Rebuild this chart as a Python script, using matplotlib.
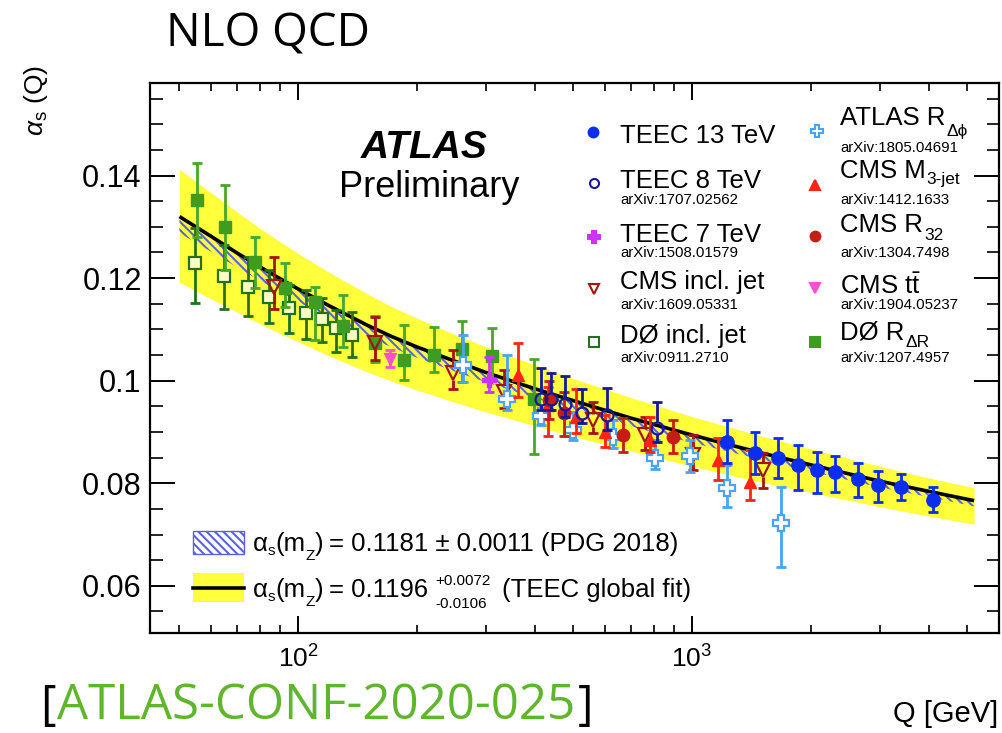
import numpy as np
import matplotlib
matplotlib.use("Agg")
import matplotlib.pyplot as plt
from matplotlib.patches import Rectangle
from matplotlib.lines import Line2D
from matplotlib.ticker import FixedLocator, NullFormatter, FuncFormatter, MultipleLocator

plt.rcParams['font.family'] = ['Liberation Sans', 'DejaVu Sans']
plt.rcParams['mathtext.fontset'] = 'custom'
plt.rcParams['mathtext.rm'] = 'Liberation Sans'
plt.rcParams['mathtext.it'] = 'Liberation Sans:italic'
plt.rcParams['mathtext.bf'] = 'Liberation Sans:bold'
plt.rcParams['mathtext.fallback'] = 'stixsans'
plt.rcParams['hatch.linewidth'] = 1.5

# ---------------- data ----------------
Q_curve     = [50, 60, 70, 80, 90, 100, 120, 150, 173, 200, 250, 300, 400, 500, 700, 1000, 1500, 2000, 3000, 4000, 5200]
fit_central = [0.1320, 0.1282, 0.1249, 0.1222, 0.1199, 0.1179, 0.1146, 0.1108, 0.1086, 0.1066, 0.1038, 0.1016,
               0.0984, 0.0961, 0.0927, 0.0894, 0.0859, 0.0836, 0.0804, 0.0784, 0.0766]
fit_up      = [0.1412, 0.1367, 0.1329, 0.1297, 0.1271, 0.1248, 0.1211, 0.1169, 0.1144, 0.1122, 0.1090, 0.1066,
               0.1030, 0.1004, 0.0967, 0.0930, 0.0892, 0.0867, 0.0833, 0.0810, 0.0791]
fit_down    = [0.1192, 0.1160, 0.1134, 0.1111, 0.1092, 0.1076, 0.1048, 0.1017, 0.0999, 0.0982, 0.0958, 0.0939,
               0.0912, 0.0891, 0.0863, 0.0833, 0.0802, 0.0782, 0.0754, 0.0736, 0.0720]
pdg_up      = [0.1315, 0.1277, 0.1245, 0.1218, 0.1195, 0.1175, 0.1142, 0.1105, 0.1083, 0.1063, 0.1035, 0.1013,
               0.0981, 0.0958, 0.0925, 0.0892, 0.0857, 0.0834, 0.0802, 0.0782, 0.0764]
pdg_down    = [0.1288, 0.1252, 0.1221, 0.1195, 0.1173, 0.1154, 0.1122, 0.1086, 0.1065, 0.1045, 0.1018, 0.0997,
               0.0966, 0.0944, 0.0911, 0.0879, 0.0846, 0.0823, 0.0792, 0.0773, 0.0755]

teec13_Q  = [1229, 1445, 1656, 1862, 2073, 2307, 2643, 2960, 3392, 4098]
teec13_a  = [0.0881, 0.0859, 0.0849, 0.0835, 0.0826, 0.0821, 0.0808, 0.0796, 0.0792, 0.0767]
teec13_hi = [0.0923, 0.0900, 0.0888, 0.0874, 0.0860, 0.0854, 0.0839, 0.0824, 0.0819, 0.0793]
teec13_lo = [0.0839, 0.0819, 0.0810, 0.0787, 0.0781, 0.0783, 0.0773, 0.0764, 0.0767, 0.0743]

teec8_Q  = [413, 439, 476, 525, 608, 814]
teec8_a  = [0.0965, 0.0964, 0.0954, 0.0936, 0.0933, 0.0907]
teec8_hi = [0.1024, 0.1015, 0.1009, 0.0983, 0.0985, 0.0959]
teec8_lo = [0.0943, 0.0943, 0.0930, 0.0917, 0.0904, 0.0881]

teec7_Q  = [306]
teec7_a  = [0.1001]
teec7_hi = [0.1047]
teec7_lo = [0.0978]

cmsjet_Q  = [86.9, 156.8, 247.9, 333.9, 561.6, 759.8, 1007.6, 1511.7]
cmsjet_a  = [0.1183, 0.1074, 0.1014, 0.0978, 0.0923, 0.0894, 0.0855, 0.0826]
cmsjet_hi = [0.1242, 0.1125, 0.1060, 0.1021, 0.0959, 0.0930, 0.0894, 0.0858]
cmsjet_lo = [0.1139, 0.1040, 0.0983, 0.0946, 0.0897, 0.0865, 0.0826, 0.0790]

d0jet_Q  = [54.8, 64.9, 74.5, 84.4, 94.9, 104.6, 114.8, 124.9, 136.9]
d0jet_a  = [0.1229, 0.1204, 0.1183, 0.1164, 0.1141, 0.1131, 0.1121, 0.1102, 0.1089]
d0jet_hi = [0.1297, 0.1264, 0.1242, 0.1216, 0.1186, 0.1177, 0.1161, 0.1138, 0.1134]
d0jet_lo = [0.1151, 0.1139, 0.1127, 0.1112, 0.1092, 0.1082, 0.1076, 0.1056, 0.1047]

atlasdphi_Q  = [262.8, 338.6, 413.0, 499.7, 629.3, 805.5, 988.5, 1229.4, 1679.2]
atlasdphi_a  = [0.1030, 0.0965, 0.0931, 0.0904, 0.0891, 0.0849, 0.0853, 0.0790, 0.0722]
atlasdphi_hi = [0.1089, 0.1050, 0.0942, 0.0939, 0.0923, 0.0884, 0.0885, 0.0835, 0.0793]
atlasdphi_lo = [0.0998, 0.0943, 0.0913, 0.0884, 0.0868, 0.0827, 0.0822, 0.0754, 0.0636]

cmsm3_Q  = [362.3, 431.8, 506.9, 601.6, 782.3, 1166.5, 1403.6]
cmsm3_a  = [0.1011, 0.0952, 0.0930, 0.0900, 0.0884, 0.0845, 0.0803]
cmsm3_hi = [0.1073, 0.0988, 0.0983, 0.0933, 0.0930, 0.0888, 0.0865]
cmsm3_lo = [0.0969, 0.0892, 0.0897, 0.0871, 0.0861, 0.0806, 0.0767]

cmsr32_Q  = [434.4, 474.2, 669.3, 896.8]
cmsr32_a  = [0.0962, 0.0936, 0.0894, 0.0891]
cmsr32_hi = [0.1000, 0.0978, 0.0927, 0.0923]
cmsr32_lo = [0.0925, 0.0892, 0.0861, 0.0858]

cmstt_Q  = [171.2]
cmstt_a  = [0.1043]
cmstt_hi = [0.1060]
cmstt_lo = [0.1027]

d0rdr_Q  = [55.4, 65.3, 77.8, 92.7, 110.4, 130.3, 156.8, 185.8, 221.4, 261.2, 311.2, 397.2]
d0rdr_a  = [0.1352, 0.1299, 0.1232, 0.1180, 0.1154, 0.1106, 0.1073, 0.1040, 0.1050, 0.1061, 0.1048, 0.0965]
d0rdr_hi = [0.1425, 0.1381, 0.1281, 0.1229, 0.1183, 0.1167, 0.1126, 0.1108, 0.1104, 0.1116, 0.1102, 0.1043]
d0rdr_lo = [0.1280, 0.1216, 0.1180, 0.1144, 0.1079, 0.1065, 0.1036, 0.1001, 0.1017, 0.0998, 0.1001, 0.0857]

y_ticks = [0.06, 0.08, 0.10, 0.12, 0.14]
y_ticklabels = ['0.06', '0.08', '0.1', '0.12', '0.14']
x_ticks = [100, 1000]
x_ticklabels = [r'$10^{2}$', r'$10^{3}$']

# ---------------- figure ----------------
W, H = 1003, 733
fig = plt.figure(figsize=(W / 100, H / 100), dpi=100)
AX_L, AX_R, AX_T, AX_B = 150, 999, 82.7, 633
ax = fig.add_axes([AX_L / W, 1 - AX_B / H, (AX_R - AX_L) / W, (AX_B - AX_T) / H])
ax.set_xscale('log')
ax.set_xlim(42.1, 6015)
ax.set_ylim(0.0508, 0.1581)
for s in ax.spines.values():
    s.set_linewidth(1.6)

YELLOW = '#ffff3c'
HATCH_C = '#5a62e4'
ax.fill_between(Q_curve, fit_down, fit_up, color=YELLOW, lw=0, zorder=1)
ax.fill_between(Q_curve, pdg_down, pdg_up, facecolor='none', edgecolor=HATCH_C,
                hatch='\\\\\\\\', lw=0, zorder=2)
ax.plot(Q_curve, fit_central, color='black', lw=2.6, zorder=3, solid_capstyle='butt')

# y pixel -> data scale (for leaving gaps in error bars around open markers)
dy_per_px = (0.1581 - 0.0508) / (AX_B - AX_T)

def series(Q, a, hi, lo, marker, color, ms, open_=False, mfc=None, ecolor=None, z=5, mew=1.6, lw=2.0, gap_scale=1.0):
    ecolor = ecolor or color
    Q = np.asarray(Q); a = np.asarray(a); hi = np.asarray(hi); lo = np.asarray(lo)
    if open_:
        gap = ms * 100 / 72 / 2 * dy_per_px * gap_scale
        ax.vlines(Q, lo, np.minimum(a - gap, a), color=ecolor, lw=lw, zorder=z)
        ax.vlines(Q, np.maximum(a + gap, a), hi, color=ecolor, lw=lw, zorder=z)
    else:
        ax.vlines(Q, lo, hi, color=ecolor, lw=lw, zorder=z)
    ax.plot(Q, hi, ls='none', marker='_', ms=6.5, mew=lw, color=ecolor, zorder=z)
    ax.plot(Q, lo, ls='none', marker='_', ms=6.5, mew=lw, color=ecolor, zorder=z)
    if open_:
        ax.plot(Q, a, ls='none', marker=marker, ms=ms, mfc=(mfc or 'none'), mec=color, mew=mew, zorder=z + 0.5)
    else:
        ax.plot(Q, a, ls='none', marker=marker, ms=ms, color=color, mec=color, zorder=z + 0.5)

C_D0J = '#23701f'; C_D0R = '#3e9c20'; C_CMSJ = '#a3160f'; C_TT = '#ff4fd2'
C_T7 = '#cc33ff'; C_DPHI = '#4ca2f5'; C_M3 = '#ff2414'; C_R32 = '#c41e12'
C_T8 = '#17179c'; C_T13 = '#0a2df0'

series(d0jet_Q, d0jet_a, d0jet_hi, d0jet_lo, 's', C_D0J, 8.6, open_=True, mfc='#ffffc4', z=5)
series(d0rdr_Q, d0rdr_a, d0rdr_hi, d0rdr_lo, 's', C_D0R, 8.0, z=6, ecolor='#4aa627')
series(cmsjet_Q, cmsjet_a, cmsjet_hi, cmsjet_lo, 'v', C_CMSJ, 9.5, open_=True, z=7)
series(cmstt_Q, cmstt_a, cmstt_hi, cmstt_lo, 'v', C_TT, 8.0, z=7)
series(teec7_Q, teec7_a, teec7_hi, teec7_lo, 'P', C_T7, 10.5, z=8)
series(atlasdphi_Q, atlasdphi_a, atlasdphi_hi, atlasdphi_lo, 'P', C_DPHI, 11.5, open_=True, mfc='white', z=8)
series(cmsm3_Q, cmsm3_a, cmsm3_hi, cmsm3_lo, '^', C_M3, 9.0, z=9)
series(cmsr32_Q, cmsr32_a, cmsr32_hi, cmsr32_lo, 'o', C_R32, 9.0, z=9)
series(teec8_Q, teec8_a, teec8_hi, teec8_lo, 'o', C_T8, 8.6, open_=True, z=10)
series(teec13_Q, teec13_a, teec13_hi, teec13_lo, 'o', C_T13, 9.6, z=11)

# ticks
ax.xaxis.set_major_locator(FixedLocator(x_ticks))
ax.xaxis.set_major_formatter(FuncFormatter(lambda v, p: x_ticklabels[x_ticks.index(int(round(v)))] if int(round(v)) in x_ticks else ''))
ax.xaxis.set_minor_locator(FixedLocator([50, 60, 70, 80, 90, 200, 300, 400, 500, 600, 700, 800, 900,
                                         2000, 3000, 4000, 5000, 6000]))
ax.xaxis.set_minor_formatter(NullFormatter())
ax.yaxis.set_major_locator(FixedLocator(y_ticks))
ax.yaxis.set_major_formatter(FuncFormatter(lambda v, p: y_ticklabels[int(round((v - 0.06) / 0.02))]))
ax.yaxis.set_minor_locator(MultipleLocator(0.005))
ax.tick_params(which='both', direction='in', top=True, right=True, color='black')
ax.tick_params(axis='y', which='major', length=18, width=1.4, labelsize=22, pad=6)
ax.tick_params(axis='y', which='minor', length=9, width=1.2)
ax.tick_params(axis='x', which='major', length=12, width=1.4, labelsize=19, pad=9)
ax.tick_params(axis='x', which='minor', length=6, width=1.2)

# ---------------- texts ----------------
R = fig.canvas.get_renderer()

def ftext(x, y, s, **kw):
    return fig.text(x / W, 1 - y / H, s, **kw)

def chain(x, y, pieces, color='black', family=None):
    for p in pieces:
        s, size, dy = p[0], p[1], p[2]
        gap = p[3] if len(p) > 3 else 0
        col = p[4] if len(p) > 4 else color
        kw = {}
        if family:
            kw['family'] = family
        t = ftext(x + gap, y + dy, s, fontsize=size, va='baseline', ha='left', color=col, **kw)
        x = t.get_window_extent(R).x1
    return x

OPEN = ['Open Sans', 'DejaVu Sans']
ftext(166, 46.7, 'NLO QCD', fontsize=33, family=OPEN, va='baseline')
xe = chain(40, 719, [('[', 34, 0)], family=OPEN)
xe = chain(xe, 719, [('ATLAS-CONF-2020-025', 35.5, 0, 2, '#5fb52c')], family=OPEN)
chain(xe, 719, [(']', 34, 0, 2)], family=OPEN)

ftext(424, 158, 'ATLAS', fontsize=28, fontweight='bold', fontstyle='italic', ha='center', va='baseline')
ftext(429, 197, 'Preliminary', fontsize=26, ha='center', va='baseline')

ftext(36, 101, r'$\alpha_{\mathrm{s}}$ (Q)', fontsize=19, rotation=90, ha='center', va='center')
ftext(998, 722, 'Q [GeV]', fontsize=21, ha='right', va='baseline')

# right-hand legend
FS, FS2, FSS = 18.5, 10.8, 12.5
col1 = [
    ('o', C_T13, 7.0, False, 593, 131.7, [('TEEC 13 TeV', FS, 0)], 142.7, None, None),
    ('o', C_T8, 6.5, True, 594, 183.3, [('TEEC 8 TeV', FS, 0)], 188.3, 'arXiv:1707.02562', 204),
    ('P', C_T7, 8.0, False, 594, 237.3, [('TEEC 7 TeV', FS, 0)], 241.7, 'arXiv:1508.01579', 256.7),
    ('v', C_CMSJ, 7.5, True, 594, 289.3, [('CMS incl. jet', FS, 0)], 289.3, 'arXiv:1609.05331', 309.3),
    ('s', C_D0J, 7.0, True, 594, 342.3, [('DØ incl. jet', FS, 0)], 342.7, 'arXiv:0911.2710', 361.7),
]
col2 = [
    ('P', C_DPHI, 8.5, True, 817, 130.7, [('ATLAS R', FS, 0), ('Δϕ', FSS, 11, 1)], 125, 'arXiv:1805.04691', 151.7),
    ('^', C_M3, 7.0, False, 815, 185, [('CMS M', FS, 0), ('3-jet', FSS, 6, 1)], 178.3, 'arXiv:1412.1633', 204),
    ('o', C_R32, 7.0, False, 815, 236, [('CMS R', FS, 0), ('32', FSS, 8, 1)], 231.7, 'arXiv:1304.7498', 256.7),
    ('v', C_TT, 7.0, False, 815, 288.3, [(r'CMS t$\bar{\mathrm{t}}$', FS, 0)], 294.3, 'arXiv:1904.05237', 309.3),
    ('s', C_D0R, 7.5, False, 815, 342.3, [('DØ R', FS, 0), ('ΔR', FSS, 7, 1)], 340, 'arXiv:1207.4957', 361.7),
]
for col, tx in ((col1, 620), (col2, 840)):
    for mk, c, ms, op, mx, my, pieces, yb, arx, ya in col:
        fig.add_artist(Line2D([mx / W], [1 - my / H], transform=fig.transFigure, ls='none', marker=mk, ms=ms,
                              mfc=('white' if op else c), mec=c, mew=1.5))
        chain(tx, yb, pieces)
        if arx:
            ftext(tx, ya, arx, fontsize=FS2, va='baseline')

# bottom-left legend
fig.add_artist(Rectangle((193.3 / W, 1 - 554.3 / H), 51 / W, 23.3 / H, transform=fig.transFigure,
                         facecolor='white', edgecolor=HATCH_C, hatch='\\\\\\\\', lw=1.0))
fig.add_artist(Rectangle((193 / W, 1 - 601.7 / H), 51 / W, 28.7 / H, transform=fig.transFigure,
                         facecolor=YELLOW, edgecolor='none'))
fig.add_artist(Line2D([193 / W, 244 / W], [1 - 587.7 / H] * 2, transform=fig.transFigure, color='black', lw=2.6))

def alpha_mz():
    return [('α', FS, 0), ('s', 11, 4, 0), ('(m', FS, 0), ('Z', 11, 9, 0), (')', FS, 0)]

chain(252.7, 551, alpha_mz() + [('= 0.1181 ± 0.0011 (PDG 2018)', FS, 0, 6)])
xe = chain(252.7, 597, alpha_mz() + [('= 0.1196', FS, 0, 6)])
ftext(xe + 7, 585, '+0.0072', fontsize=11, va='baseline')
ftext(xe + 7, 608, '-0.0106', fontsize=11, va='baseline')
ftext(501.7, 597, '(TEEC global fit)', fontsize=FS, va='baseline')

fig.savefig('out.png', dpi=100)
